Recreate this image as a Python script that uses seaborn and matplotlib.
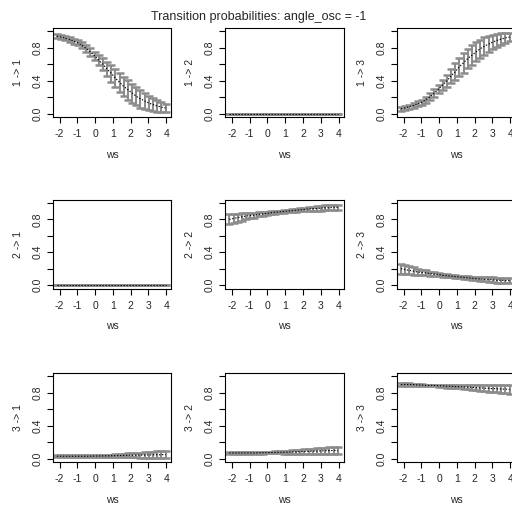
import numpy as np
import pandas as pd
import seaborn as sns
import matplotlib
matplotlib.use("Agg")
import matplotlib.pyplot as plt

# covariate grid (wind speed)
ws = [-2.15, -1.91, -1.68, -1.44, -1.21, -0.97, -0.74, -0.50, -0.27, -0.03,
      0.20, 0.44, 0.67, 0.91, 1.14, 1.38, 1.61, 1.85, 2.08, 2.32,
      2.55, 2.79, 3.02, 3.26, 3.49, 3.73, 3.96]

# estimated transition probabilities
p11 = [0.94, 0.93, 0.915, 0.90, 0.88, 0.86, 0.83, 0.79, 0.75, 0.70,
       0.65, 0.60, 0.54, 0.49, 0.43, 0.38, 0.33, 0.29, 0.25, 0.21,
       0.18, 0.155, 0.13, 0.11, 0.095, 0.08, 0.07]
p12 = [0.0] * 27
p13 = [0.06, 0.07, 0.085, 0.10, 0.12, 0.14, 0.17, 0.21, 0.25, 0.30,
       0.35, 0.40, 0.46, 0.51, 0.57, 0.62, 0.67, 0.71, 0.75, 0.79,
       0.82, 0.845, 0.87, 0.89, 0.905, 0.92, 0.93]
p21 = [0.0] * 27
p22 = [0.80, 0.81, 0.82, 0.83, 0.84, 0.845, 0.85, 0.86, 0.865, 0.87,
       0.88, 0.885, 0.89, 0.895, 0.90, 0.905, 0.91, 0.915, 0.92, 0.925,
       0.93, 0.93, 0.935, 0.94, 0.94, 0.945, 0.945]
p23 = [0.20, 0.19, 0.18, 0.17, 0.16, 0.155, 0.15, 0.14, 0.135, 0.13,
       0.12, 0.115, 0.11, 0.105, 0.10, 0.095, 0.09, 0.085, 0.08, 0.075,
       0.07, 0.07, 0.065, 0.06, 0.06, 0.055, 0.055]
p31 = [0.03, 0.03, 0.03, 0.03, 0.03, 0.03, 0.03, 0.03, 0.031, 0.032,
       0.033, 0.034, 0.035, 0.036, 0.037, 0.038, 0.04, 0.041, 0.042, 0.043,
       0.044, 0.045, 0.046, 0.047, 0.048, 0.049, 0.05]
p32 = [0.07, 0.07, 0.07, 0.07, 0.07, 0.07, 0.07, 0.072, 0.073, 0.074,
       0.075, 0.076, 0.077, 0.078, 0.08, 0.081, 0.083, 0.085, 0.087, 0.089,
       0.091, 0.093, 0.095, 0.097, 0.099, 0.10, 0.10]
p33 = [0.90, 0.90, 0.90, 0.90, 0.895, 0.895, 0.89, 0.89, 0.89, 0.885,
       0.885, 0.88, 0.88, 0.875, 0.875, 0.87, 0.87, 0.865, 0.86, 0.86,
       0.855, 0.855, 0.85, 0.85, 0.845, 0.845, 0.84]

# half-widths of the confidence intervals
hw1 = [0.025, 0.025, 0.025, 0.025, 0.03, 0.03, 0.035, 0.04, 0.045, 0.05,
       0.06, 0.07, 0.085, 0.10, 0.11, 0.12, 0.12, 0.12, 0.115, 0.11,
       0.105, 0.10, 0.09, 0.08, 0.07, 0.06, 0.05]
hw0 = [0.0] * 27
hw2 = [0.06, 0.055, 0.05, 0.045, 0.04, 0.035, 0.03, 0.025, 0.02, 0.018,
       0.015, 0.015, 0.015, 0.015, 0.015, 0.018, 0.02, 0.02, 0.022, 0.025,
       0.025, 0.028, 0.03, 0.03, 0.03, 0.03, 0.03]
hw31 = [0.015, 0.014, 0.013, 0.012, 0.011, 0.01, 0.01, 0.01, 0.01, 0.01,
        0.011, 0.012, 0.013, 0.015, 0.017, 0.019, 0.021, 0.023, 0.025, 0.028,
        0.03, 0.032, 0.035, 0.038, 0.04, 0.042, 0.045]
hw33 = [0.015, 0.014, 0.013, 0.012, 0.011, 0.01, 0.01, 0.01, 0.01, 0.012,
        0.014, 0.016, 0.018, 0.02, 0.022, 0.025, 0.028, 0.03, 0.032, 0.035,
        0.037, 0.04, 0.042, 0.044, 0.046, 0.048, 0.05]

panels = [
    ("1 -> 1", p11, hw1), ("1 -> 2", p12, hw0), ("1 -> 3", p13, hw1),
    ("2 -> 1", p21, hw0), ("2 -> 2", p22, hw2), ("2 -> 3", p23, hw2),
    ("3 -> 1", p31, hw31), ("3 -> 2", p32, hw31), ("3 -> 3", p33, hw33),
]

sns.set_theme(style="ticks")
plt.rcParams["font.family"] = ["Liberation Sans", "DejaVu Sans"]
plt.rcParams["axes.unicode_minus"] = False

W, H = 512, 509
fig = plt.figure(figsize=(W / 100, H / 100), dpi=100)

col_left = [52.7, 225.0, 396.7]
row_top = [28.0, 199.5, 373.0]
aw, ah = 118.5, 89.0

for i, (name, mean, hw) in enumerate(panels):
    r, c = divmod(i, 3)
    ax = fig.add_axes([col_left[c] / W, 1 - (row_top[r] + ah) / H, aw / W, ah / H])
    df = pd.DataFrame({"ws": ws, "p": mean, "hw": hw})
    ax.errorbar(df["ws"], df["p"], yerr=df["hw"], fmt="none", ecolor="#8c8c8c",
                elinewidth=1.5, capsize=2.6, capthick=1.8)
    sns.lineplot(data=df, x="ws", y="p", ax=ax, color="black", lw=0.8,
                 linestyle=(0, (1.2, 1.5)))
    ax.set_xlim(-2.39, 4.28)
    ax.set_ylim(-0.04, 1.04)
    ax.set_xticks([-2, -1, 0, 1, 2, 3, 4])
    ax.set_yticks([0, 0.2, 0.4, 0.6, 0.8, 1.0])
    ax.set_yticklabels(["0.0", "", "0.4", "", "0.8", ""])
    ax.tick_params(axis="both", direction="out", length=4.3, width=0.8,
                   labelsize=7.5, color="black")
    ax.tick_params(axis="x", pad=4.5)
    ax.tick_params(axis="y", pad=3)
    for lab in ax.get_yticklabels():
        lab.set_rotation(90)
        lab.set_va("center")
    for s in ax.spines.values():
        s.set_linewidth(0.8)
        s.set_color("black")
    ax.set_xlabel("ws", fontsize=7.5)
    ax.set_ylabel(name, fontsize=7.5)
    ax.xaxis.set_label_coords(0.5, -38 / ah)
    ax.xaxis.label.set_va("center")
    ax.yaxis.set_label_coords(-35 / aw, 0.5)
    ax.yaxis.label.set_va("center")

fig.text(259 / W, 1 - 17 / H, "Transition probabilities: angle_osc = -1",
         ha="center", va="center", fontsize=9)

plt.savefig("out.png", dpi=100)
